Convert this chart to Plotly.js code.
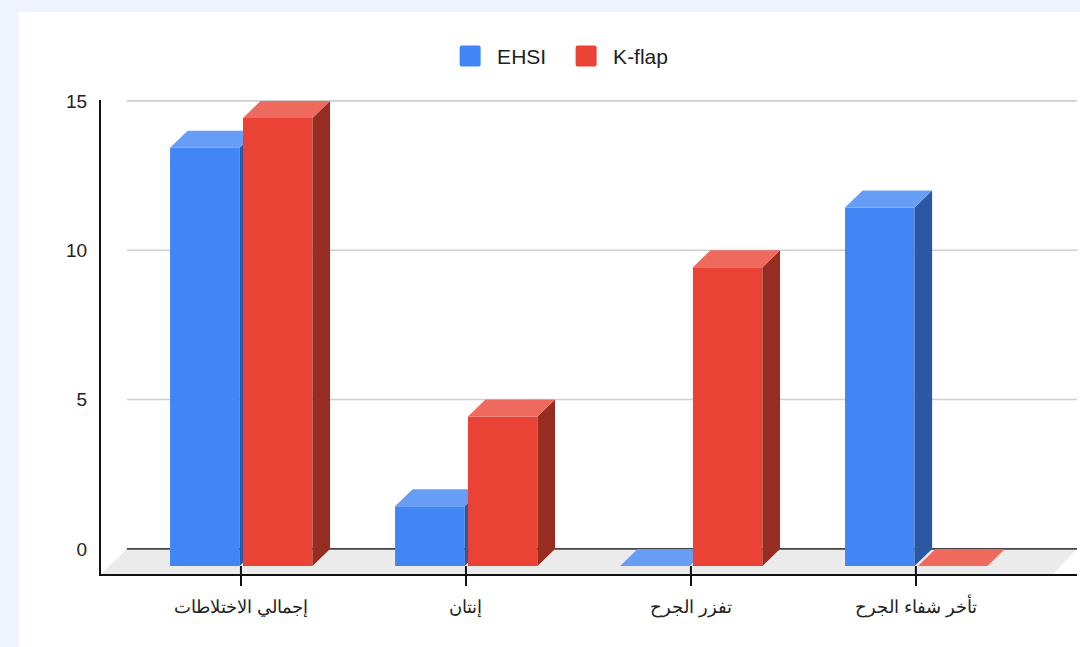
<!DOCTYPE html>
<html>
<head>
<meta charset="utf-8">
<script src="https://cdn.plot.ly/plotly-3.0.1.min.js"></script>
<style>
html,body{margin:0;padding:0;background:#eff3fe;width:1080px;height:647px;overflow:hidden}
#panel{position:absolute;left:19px;top:12px;width:1061px;height:635px;background:#fff}
#chart{position:absolute;left:0;top:0;width:1080px;height:647px}
</style>
</head>
<body>
<div id="panel"></div>
<div id="chart"></div>
<script>
var categories = ["إجمالي الاختلاطات", "إنتان", "تفزر الجرح", "تأخر شفاء الجرح"];
var ehsi = [14, 2, 0, 12];
var kflap = [15, 5, 10, 0];
var yTicks = [0, 5, 10, 15];

var positions = categories.map(function (_, i) { return i; });
var depthX = 0.078, depthY = 0.57, barW = 0.309;
var xMin = -0.622, xMax = 3.716, yMin = -0.84, yMax = 15.03;
var FONT = 'Liberation Sans, Arial, sans-serif';

function faces(values, off) {
  var top = {x: [], y: []}, side = {x: [], y: []};
  values.forEach(function (v, i) {
    var a = i + off, b = a + barW;
    top.x.push(a, b, b + depthX, a + depthX, a, null);
    top.y.push(v - depthY, v - depthY, v, v, v - depthY, null);
    if (v > 0) {
      side.x.push(b, b + depthX, b + depthX, b, b, null);
      side.y.push(-depthY, 0, v, v - depthY, -depthY, null);
    }
  });
  return {top: top, side: side};
}
function poly(d, color, yaxis) {
  return {type: 'scatter', mode: 'lines', x: d.x, y: d.y, yaxis: yaxis, fill: 'toself',
    fillcolor: color, line: {width: 0, color: color}, showlegend: false,
    hoverinfo: 'skip', cliponaxis: false};
}
function bar(name, values, off, color, yaxis) {
  return {type: 'bar', name: name, x: positions, y: values,
    base: values.map(function () { return -depthY; }),
    width: barW, offset: off, yaxis: yaxis, marker: {color: color, line: {width: 0}}, cliponaxis: false};
}
var offBlue = -0.315, offRed = 0.009;
var fb = faces(ehsi, offBlue), fr = faces(kflap, offRed);
var traces = [
  bar('EHSI', ehsi, offBlue, '#4285f4', 'y'),
  poly(fb.side, '#2c58a3', 'y'),
  poly(fb.top, '#689df6', 'y'),
  bar('K-flap', kflap, offRed, '#ea4335', 'y2'),
  poly(fr.side, '#962c22', 'y2'),
  poly(fr.top, '#ee6a5f', 'y2')
];

var gridLeft = -0.507;
var shapes = [{type: 'path', layer: 'below', line: {width: 0}, fillcolor: '#ebebeb',
  path: 'M' + gridLeft + ',0 L' + xMax + ',0 L3.61,' + yMin + ' L' + xMin + ',' + yMin + ' Z'}];
yTicks.forEach(function (t) {
  shapes.push({type: 'line', layer: 'below', x0: gridLeft, x1: xMax, y0: t, y1: t,
    line: {color: t === 0 ? '#444444' : '#cfcfcf', width: 1.6}});
});
positions.forEach(function (p) {
  shapes.push({type: 'line', layer: 'above', x0: p, x1: p, y0: -depthY, y1: yMin,
    line: {color: '#111111', width: 2}});
});

var layout = {
  width: 1080, height: 647,
  margin: {l: 101, r: 3, t: 100, b: 73},
  paper_bgcolor: 'rgba(0,0,0,0)', plot_bgcolor: 'rgba(0,0,0,0)',
  barmode: 'overlay',
  font: {family: FONT, color: '#222222'},
  showlegend: true,
  legend: {orientation: 'h', x: 0.4103, xanchor: 'left', y: 0.913, yanchor: 'middle',
    yref: 'container', xref: 'container', itemwidth: 44, entrywidthmode: 'pixels', entrywidth: 57,
    font: {size: 21, color: '#222222', family: FONT}, bgcolor: 'rgba(0,0,0,0)', traceorder: 'normal', itemclick: false, itemdoubleclick: false},
  xaxis: {range: [xMin, xMax], tickmode: 'array', tickvals: positions, ticktext: categories,
    ticks: 'outside', ticklen: 10, tickwidth: 2, tickcolor: '#111111', ticklabelstandoff: 5,
    showline: true, linecolor: '#111111', linewidth: 2, showgrid: false, zeroline: false,
    tickfont: {size: 18, color: '#222222', family: FONT}},
  yaxis: {range: [yMin, yMax], tickmode: 'array', tickvals: yTicks, ticks: '', showgrid: false, zeroline: false,
    showline: true, linecolor: '#111111', linewidth: 2, ticklabelstandoff: 8,
    tickfont: {size: 19, color: '#222222', family: FONT}},
  yaxis2: {range: [yMin, yMax], overlaying: 'y', visible: false, showgrid: false, zeroline: false},
  shapes: shapes
};

Plotly.newPlot('chart', traces, layout, {displayModeBar: false, responsive: false}).then(function () {
  var d = 'M-8.5,-10.5H8.5A2,2 0 0 1 10.5,-8.5V8.5A2,2 0 0 1 8.5,10.5H-8.5A2,2 0 0 1 -10.5,8.5V-8.5A2,2 0 0 1 -8.5,-10.5Z';
  document.querySelectorAll('.legend .legendpoints path').forEach(function (p) { p.setAttribute('d', d); });
});
</script>
</body>
</html>
